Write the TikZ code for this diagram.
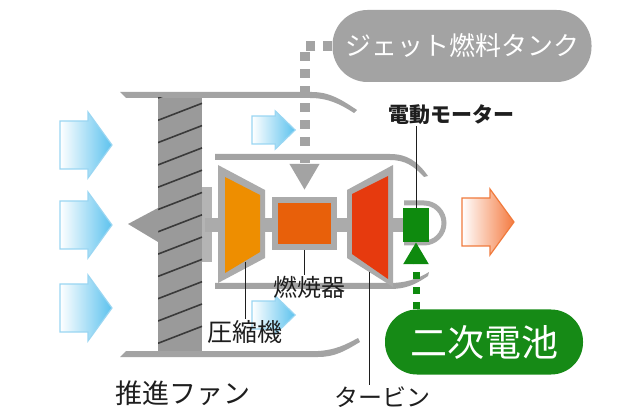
\documentclass[tikz,border=0pt]{standalone}
\usepackage{fontspec}
\setmainfont{Noto Sans CJK JP}
\usetikzlibrary{arrows.meta,positioning}
\definecolor{caseGray}{HTML}{A3A3A3}
\definecolor{frameGray}{HTML}{ABABAB}
\definecolor{fanGray}{HTML}{9A9A9A}
\definecolor{hubGray}{HTML}{B4B4B4}
\definecolor{bladeLine}{HTML}{3A3A3A}
\definecolor{compOrange}{HTML}{EE8E00}
\definecolor{combOrange}{HTML}{E8600A}
\definecolor{turbRed}{HTML}{E63A0E}
\definecolor{motorGreen}{HTML}{0E8A0E}
\definecolor{battGreen}{HTML}{168A16}
\definecolor{skyBlue}{HTML}{5CC2EE}
\definecolor{skyLine}{HTML}{9AD6F2}
\definecolor{hotOrange}{HTML}{F47A40}
\definecolor{hotLine}{HTML}{F07A3C}
\definecolor{inkBlack}{HTML}{1E1E1E}

\tikzset{
  flowarrow/.pic={
    \shade[pic actions] (0,-24) -- (28,-24) -- (28,-33) -- (52,0) -- (28,33) -- (28,24) -- (0,24) -- cycle;
  },
}

\begin{document}
\begin{tikzpicture}[
  x=1pt, y=-1pt,
  every node/.style={inner sep=1pt, text=inkBlack},
  airflow/.style={left color=white, right color=skyBlue, draw=skyLine, line width=1.2pt},
  exhaust/.style={left color=white, right color=hotOrange, draw=hotLine, line width=1.2pt},
  pill/.style={rounded corners=#1, text=white, inner sep=0pt},
  label/.style={font=\fontsize{24}{28}\selectfont},
  leader/.style={draw=inkBlack, line width=0.8pt},
  blade/.style={draw=bladeLine, line width=1.6pt},
  fuelfeed/.style={draw=caseGray, line width=10pt, dash pattern=on 9pt off 8pt,
    -{Triangle[length=26pt,width=28pt]}, shorten >=7pt},
  chargefeed/.style={draw=motorGreen, line width=7pt, dash pattern=on 7pt off 8pt,
    -{Triangle[length=22pt,width=24pt]}}
]
\useasboundingbox (0,0) rectangle (643,414);

% outer cowl
\fill[caseGray] (120,92) -- (312,92) .. controls (330,92) and (342,100) .. (357,110)
  -- (354,113) .. controls (340,104) and (328,98) .. (310,98) -- (126,98) -- cycle;
\fill[caseGray] (126,351) -- (318,351) .. controls (335,350) and (345,345) .. (358,338)
  -- (360,342) .. controls (345,351) and (335,357) .. (318,357) -- (120,357) -- cycle;

% fan with blades
\fill[hubGray] (200,187) rectangle (212,262);
\fill[fanGray] (158,98) rectangle (202,351);
\begin{scope}
  \clip (158,98) rectangle (202,351);
  \foreach \k in {0,...,11}
    \draw[blade] (158,{98+22.3*\k}) -- (202,{81+22.3*\k});
\end{scope}
\fill[fanGray] (128,224) -- (158,208) -- (158,242) -- cycle;

% core casing
\fill[caseGray] (215,154) -- (390,154) .. controls (408,154) and (418,162) .. (428,176)
  -- (424,177) .. controls (414,166) and (405,160) .. (390,160) -- (215,160) -- cycle;
\fill[caseGray] (215,283) -- (390,283) .. controls (405,283) and (418,279) .. (429,272)
  -- (428,276) .. controls (415,285) and (405,289) .. (390,289) -- (215,289) -- cycle;

% shaft
\fill[frameGray] (205,218) rectangle (410,232);

% compressor
\fill[frameGray] (218,165) -- (265,190) -- (265,258) -- (218,283) -- cycle;
\fill[compOrange] (225,177) -- (260,195) -- (260,252) -- (225,273) -- cycle;
\coordinate (compfoot) at (245,262);

% combustor
\node[draw=frameGray, line width=6pt, fill=combOrange, inner sep=0pt,
  minimum width=59, minimum height=47] (comb) at (304.5,223.5) {};

% turbine
\fill[frameGray] (347,190) -- (393,165) -- (393,287) -- (347,258) -- cycle;
\fill[turbRed] (352,194) -- (388,176) -- (388,279) -- (352,254) -- cycle;
\coordinate (turbfoot) at (369,272);

% motor
\draw[frameGray, line width=5pt] (404,203) -- (424,203) arc(-90:90:20) -- (404,243);
\node[fill=motorGreen, inner sep=0pt, minimum width=26, minimum height=34] (motor) at (416,225) {};

% air in and out
\foreach \yy in {145,225,308}
  \pic[airflow] at (60,\yy) {flowarrow};
\pic[airflow, xscale=0.83, yscale=0.58] at (252,130) {flowarrow};
\pic[airflow, xscale=0.83, yscale=0.58] at (252,315) {flowarrow};
\pic[exhaust] at (462,222) {flowarrow};

% tank and battery
\node[pill=35pt, fill=caseGray, minimum width=259, minimum height=72,
  font=\fontsize{26}{30}\selectfont] (tank) at (462,46) {ジェット燃料タンク};
\node[pill=32pt, fill=battGreen, minimum width=198, minimum height=65,
  font=\fontsize{37}{40}\selectfont] (batt) at (484,342) {二次電池};

\draw[fuelfeed] (tank.west) -- (tank.west -| comb.north) -- (comb.north);
\draw[chargefeed] (batt.north -| motor.south) -- (motor.south);

% labels
\node[label, font=\fontsize{27}{30}\selectfont] (fanlbl) at (183,393) {推進ファン};
\node[label, font=\fontsize{25}{28}\selectfont] (complbl) at (245,332) {圧縮機};
\node[label] (comblbl) at (309,287) {燃焼器};
\node[label] (turblbl) at (382,397) {タービン};
\node[label, font=\fontsize{21}{24}\selectfont\bfseries] (motorlbl) at (451,115) {電動モーター};

\draw[leader] (compfoot) -- (compfoot |- complbl.north);
\draw[leader] (comb.south) -- (comb.south |- comblbl.north);
\draw[leader] (turbfoot) -- (turbfoot |- turblbl.north);
\draw[leader] (motorlbl.south -| motor.north) -- (motor.north);
\end{tikzpicture}
\end{document}
